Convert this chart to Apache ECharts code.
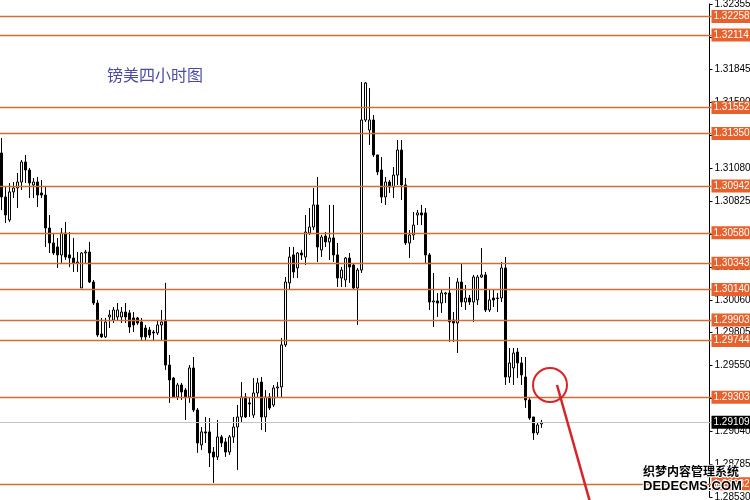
<!DOCTYPE html>
<html>
<head>
<meta charset="utf-8">
<script src="https://cdn.jsdelivr.net/npm/echarts@6/dist/echarts.min.js"></script>
<style>html,body{margin:0;padding:0;background:#fff;}#c{width:750px;height:500px;}</style>
</head>
<body>
<div id="c"></div>
<script>
// ---- data (GBP/USD 4H) ----
const opens = [1.31199,1.30858,1.30679,1.30897,1.30928,1.30974,1.31129,1.31067,1.30951,1.30974,1.30889,1.30873,1.30617,1.30501,1.30470,1.30408,1.30578,1.30408,1.30384,1.30346,1.30152,1.30423,1.30431,1.30198,1.30035,1.29795,1.29772,1.29927,1.29903,1.29927,1.29927,1.29965,1.29958,1.29919,1.29919,1.29888,1.29841,1.29826,1.29810,1.29803,1.29865,1.29903,1.29554,1.29453,1.29306,1.29399,1.29360,1.29306,1.29531,1.29205,1.28934,1.29035,1.29035,1.28879,1.28841,1.28996,1.28957,1.28879,1.28996,1.29073,1.29151,1.29306,1.29260,1.29166,1.29337,1.29422,1.29151,1.29306,1.29244,1.29376,1.29384,1.29710,1.30191,1.30408,1.30307,1.30423,1.30392,1.30578,1.30625,1.30796,1.30447,1.30555,1.30509,1.30540,1.30408,1.30229,1.30214,1.30384,1.30330,1.30152,1.30291,1.31455,1.31377,1.31455,1.31184,1.31067,1.30858,1.30974,1.30935,1.31028,1.31222,1.30951,1.30501,1.30563,1.30718,1.30734,1.30734,1.30408,1.30043,1.30051,1.30035,1.30105,1.30113,1.29903,1.29880,1.30198,1.30043,1.30074,1.30043,1.30059,1.30237,1.30253,1.29981,1.30074,1.30074,1.30074,1.30307,1.29461,1.29531,1.29655,1.29570,1.29461,1.29283,1.29151,1.29027,1.29097];
const closes = [1.30858,1.30718,1.30897,1.30928,1.30974,1.31129,1.31067,1.30966,1.30974,1.30873,1.30873,1.30617,1.30501,1.30423,1.30408,1.30578,1.30392,1.30384,1.30346,1.30353,1.30423,1.30431,1.30198,1.30035,1.29787,1.29772,1.29888,1.29942,1.29981,1.29981,1.29965,1.29927,1.29849,1.29865,1.29880,1.29772,1.29772,1.29787,1.29803,1.29865,1.29888,1.29554,1.29438,1.29306,1.29399,1.29345,1.29306,1.29531,1.29205,1.28949,1.29035,1.29027,1.28872,1.28841,1.28996,1.28949,1.28879,1.28996,1.29073,1.29151,1.29306,1.29151,1.29252,1.29337,1.29415,1.29151,1.29306,1.29221,1.29376,1.29384,1.29710,1.30198,1.30392,1.30276,1.30423,1.30408,1.30586,1.30625,1.30796,1.30470,1.30547,1.30509,1.30540,1.30408,1.30229,1.30291,1.30384,1.30315,1.30152,1.30291,1.31455,1.31742,1.31455,1.31184,1.31052,1.30858,1.30974,1.30935,1.31028,1.31222,1.30951,1.30501,1.30563,1.30640,1.30734,1.30718,1.30408,1.30043,1.30051,1.30035,1.30113,1.30113,1.29888,1.29880,1.30198,1.30043,1.30074,1.30043,1.30237,1.30237,1.30253,1.29981,1.30059,1.30059,1.30070,1.30307,1.29461,1.29570,1.29647,1.29570,1.29477,1.29283,1.29143,1.29027,1.29089,1.29109];
const lows = [1.30757,1.30656,1.30664,1.30850,1.30772,1.30912,1.30966,1.30850,1.30850,1.30780,1.30850,1.30470,1.30423,1.30408,1.30307,1.30346,1.30369,1.30315,1.30276,1.30276,1.30152,1.30346,1.30191,1.30020,1.29772,1.29764,1.29764,1.29841,1.29880,1.29903,1.29880,1.29880,1.29803,1.29810,1.29865,1.29748,1.29748,1.29764,1.29748,1.29787,1.29748,1.29516,1.29260,1.29298,1.29283,1.29283,1.29128,1.29260,1.29190,1.28872,1.28895,1.28949,1.28763,1.28639,1.28817,1.28918,1.28841,1.28856,1.28949,1.28740,1.29104,1.29143,1.29151,1.29143,1.29306,1.29050,1.29035,1.29205,1.29229,1.29298,1.29298,1.29694,1.30136,1.30229,1.30229,1.30369,1.30330,1.30563,1.30602,1.30353,1.30392,1.30470,1.30369,1.30353,1.30159,1.30159,1.30159,1.30191,1.30136,1.29865,1.30268,1.31440,1.31261,1.31168,1.31028,1.30811,1.30796,1.30889,1.30850,1.30951,1.30834,1.30485,1.30384,1.30524,1.30640,1.30640,1.30346,1.29981,1.29849,1.29927,1.29958,1.30035,1.29733,1.29733,1.29647,1.30004,1.29981,1.30020,1.29888,1.30020,1.30229,1.29965,1.29965,1.30004,1.29965,1.30043,1.29399,1.29415,1.29399,1.29453,1.29399,1.29221,1.29128,1.28973,1.29011,1.29066];
const highs = [1.31315,1.30935,1.30966,1.30974,1.31044,1.31145,1.31184,1.31083,1.31005,1.31013,1.30990,1.30935,1.30718,1.30578,1.30540,1.30617,1.30664,1.30586,1.30540,1.30431,1.30431,1.30447,1.30509,1.30214,1.30059,1.29919,1.29919,1.29981,1.30004,1.30035,1.30004,1.30035,1.29981,1.29965,1.29927,1.29919,1.29865,1.29849,1.29826,1.29903,1.29981,1.30191,1.29632,1.29461,1.29415,1.29415,1.29376,1.29554,1.29616,1.29221,1.29073,1.29151,1.29143,1.28918,1.29128,1.29011,1.28988,1.29011,1.29151,1.29244,1.29422,1.29337,1.29298,1.29453,1.29453,1.29461,1.29360,1.29337,1.29399,1.29422,1.29764,1.30237,1.30470,1.30470,1.30431,1.30447,1.30718,1.30772,1.30928,1.31013,1.30563,1.30586,1.30796,1.30796,1.30501,1.30315,1.30392,1.30423,1.30346,1.30307,1.31750,1.31750,1.31703,1.31494,1.31184,1.31168,1.31013,1.30990,1.31090,1.31300,1.31300,1.31005,1.30602,1.30741,1.30757,1.30796,1.30772,1.30423,1.30268,1.30113,1.30136,1.30121,1.30237,1.29965,1.30229,1.30346,1.30175,1.30097,1.30253,1.30253,1.30462,1.30276,1.30136,1.30136,1.30113,1.30353,1.30392,1.29686,1.29686,1.29686,1.29616,1.29616,1.29298,1.29151,1.29104,1.29128];
const levelPrices = [1.32258,1.32114,1.31552,1.31350,1.30942,1.30580,1.30343,1.30140,1.29903,1.29744,1.29303,1.28632];
const lastPrice = 1.29109;
const axisMin = 1.28530, axisMax = 1.32355, axisStep = 0.00255;
const slotCount = 178;
const titleText = '镑美四小时图';

const categories = [];
for (let i = 0; i < slotCount; i++) categories.push(String(i + 1));
const kData = opens.map((o, i) => [o, closes[i], lows[i], highs[i]]);

const labelFont = "'Liberation Sans',Arial,sans-serif";
const orange = '#e8612c';

const markData = levelPrices.map(v => ({
  yAxis: v,
  lineStyle: {color: '#cf6f36', width: 1.3, type: 'solid'},
  label: {backgroundColor: orange, color: '#fff'}
}));
markData.push({
  yAxis: lastPrice,
  lineStyle: {color: '#c4c4c4', width: 1, type: 'solid'},
  label: {backgroundColor: '#000', color: '#fff'}
});

const chart = echarts.init(document.getElementById('c'), null, {renderer: 'canvas'});
chart.setOption({
  animation: false,
  backgroundColor: '#fff',
  title: {
    text: titleText, left: 107, top: 67, padding: 0,
    textStyle: {fontSize: 16, fontWeight: 'normal', color: '#4b4ba6', fontFamily: "'Noto Sans CJK SC',sans-serif"}
  },
  grid: {left: -0.5, right: 38.5, top: 4, bottom: 3, containLabel: false, outerBoundsMode: 'none'},
  xAxis: {
    type: 'category', data: categories, show: false, boundaryGap: true
  },
  yAxis: {
    type: 'value', position: 'right', offset: -2,
    min: axisMin, max: axisMax, interval: axisStep,
    axisLine: {show: true, lineStyle: {color: '#000', width: 1}},
    axisTick: {show: true, length: 3, inside: false, lineStyle: {color: '#000'}},
    splitLine: {show: false},
    axisLabel: {
      margin: 5, color: '#000', fontSize: 10, fontFamily: labelFont,
      formatter: v => v.toFixed(5)
    }
  },
  series: [{
    type: 'candlestick',
    data: kData,
    barWidth: 2,
    itemStyle: {
      color: '#fff', color0: '#000',
      borderColor: '#000', borderColor0: '#000', borderWidth: 1
    },
    markLine: {
      silent: true, symbol: ['none', 'none'], animation: false, precision: 5,
      label: {
        show: true, position: 'end', distance: 0,
        fontSize: 10, fontFamily: labelFont, padding: [2, 2, 1, 2],
        formatter: p => Number(p.value).toFixed(5)
      },
      data: markData
    }
  }],
  graphic: [
    {type: 'circle', shape: {cx: 550, cy: 385, r: 17}, style: {fill: 'none', stroke: '#d8232a', lineWidth: 2}, z: 100},
    {type: 'line', shape: {x1: 557, y1: 385, x2: 590, y2: 502}, style: {stroke: '#d8232a', lineWidth: 2.5}, z: 100},
    {type: 'text', left: 642, top: 464, style: {text: '织梦内容管理系统', font: "bold 12px 'Noto Sans CJK SC'", fill: '#000', stroke: '#fff', lineWidth: 2}, z: 110},
    {type: 'text', left: 642, top: 479, style: {text: 'DEDECMS.COM', font: "bold 13px 'Liberation Sans'", fill: '#000', stroke: '#fff', lineWidth: 2}, z: 110}
  ]
});
</script>
</body>
</html>
